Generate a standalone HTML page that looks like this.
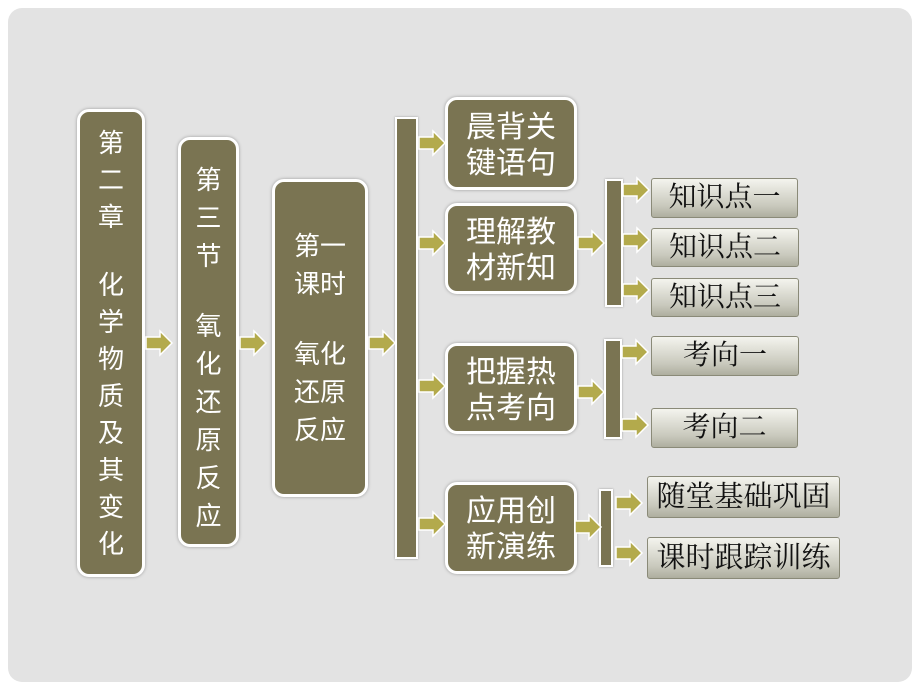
<!DOCTYPE html>
<html><head><meta charset="utf-8"><style>
body{margin:0;width:920px;height:690px;background:#fff;position:relative;overflow:hidden;font-family:"Liberation Sans","Noto Sans CJK SC",sans-serif}
.card{position:absolute;left:8px;top:8px;width:904px;height:674px;background:#e3e3e3;border-radius:14px}
.b{position:absolute;background:#7a7452;border:3px solid #fff;border-radius:12px;color:#fff;font-size:26px;line-height:32px;box-sizing:border-box;box-shadow:0 0 3px #999;text-align:center}
.b div{height:31px}
.bar{position:absolute;background:#7a7452;border:2px solid #fff;box-sizing:border-box;box-shadow:0 0 2px #999}
.s{position:absolute;box-sizing:border-box;background:linear-gradient(#f4f4ee,#c9c9bd 70%,#aeae9f);border:1px solid #8a8a78;border-radius:3px;color:#111;font-size:28px;text-align:center;font-family:"Liberation Serif","Noto Serif CJK SC",serif}
</style></head><body>
<div class="card"></div>
<div class="b" style="left:77px;top:109px;width:68px;height:468px;padding-top:13px;line-height:37px">第<br>二<br>章<div></div>化<br>学<br>物<br>质<br>及<br>其<br>变<br>化</div>
<div class="b" style="left:178px;top:137px;width:61px;height:410px;padding-top:21px;line-height:38px">第<br>三<br>节<div style="height:32px"></div>氧<br>化<br>还<br>原<br>反<br>应</div>
<div class="b" style="left:272px;top:179px;width:96px;height:318px;padding-top:45px;line-height:38px">第一<br>课时<div style="height:32px"></div>氧化<br>还原<br>反应</div>
<div class="bar" style="left:395px;top:117px;width:23px;height:442px"></div>
<div class="b" style="left:445px;top:97px;width:132px;height:93px;padding-top:10px;font-size:30px;line-height:36px">晨背关<br>键语句</div>
<div class="b" style="left:445px;top:203px;width:132px;height:91px;padding-top:9px;font-size:30px;line-height:36px">理解教<br>材新知</div>
<div class="b" style="left:445px;top:343px;width:132px;height:91px;padding-top:9px;font-size:30px;line-height:36px">把握热<br>点考向</div>
<div class="b" style="left:445px;top:482px;width:132px;height:92px;padding-top:9px;font-size:30px;line-height:36px">应用创<br>新演练</div>
<div class="bar" style="left:605px;top:179px;width:18px;height:128px"></div>
<div class="bar" style="left:604px;top:339px;width:18px;height:100px"></div>
<div class="bar" style="left:599px;top:489px;width:14px;height:78px"></div>
<div class="s" style="left:651px;top:178px;width:147px;height:40px;line-height:38px">知识点一</div>
<div class="s" style="left:651px;top:228px;width:148px;height:39px;line-height:37px">知识点二</div>
<div class="s" style="left:651px;top:278px;width:148px;height:39px;line-height:37px">知识点三</div>
<div class="s" style="left:651px;top:336px;width:148px;height:40px;line-height:38px">考向一</div>
<div class="s" style="left:651px;top:408px;width:147px;height:40px;line-height:38px">考向二</div>
<div class="s" style="left:647px;top:476px;width:193px;height:42px;line-height:40px;font-size:29px">随堂基础巩固</div>
<div class="s" style="left:647px;top:537px;width:193px;height:42px;line-height:40px;font-size:29px">课时跟踪训练</div>
<svg width="920" height="690" style="position:absolute;left:0;top:0">
<defs><path id="a" d="M0,-6 H14 V-12 L26,0 L14,12 V6 H0 Z" fill="#b3aa4c" stroke="#fff" stroke-width="1.5"/></defs>
<use href="#a" x="146" y="343"/><use href="#a" x="240" y="343"/><use href="#a" x="369" y="343"/>
<use href="#a" x="419" y="143"/><use href="#a" x="419" y="243"/><use href="#a" x="419" y="386"/><use href="#a" x="419" y="524"/>
<use href="#a" x="578" y="243"/><use href="#a" x="578" y="392"/><use href="#a" x="575" y="527"/>
<use href="#a" x="623" y="190"/><use href="#a" x="623" y="240"/><use href="#a" x="623" y="290"/>
<use href="#a" x="622" y="352"/><use href="#a" x="622" y="425"/>
<use href="#a" x="616" y="503"/><use href="#a" x="616" y="553"/>
</svg>
</body></html>
